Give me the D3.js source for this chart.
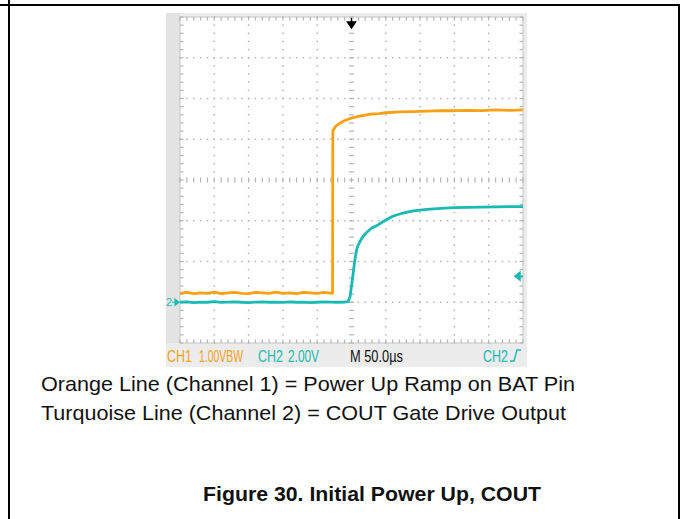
<!DOCTYPE html>
<html>
<head>
<meta charset="utf-8">
<script src="https://cdn.jsdelivr.net/npm/d3@7"></script>
<style>
  body { margin: 0; background: #fff; }
  svg { display: block; }
</style>
</head>
<body>
<div id="my_dataviz"></div>
<script>

// time axis in microseconds (50 us / div, 10 div)
var ch1Time = [0, 10, 20, 30, 40, 50, 60, 70, 80, 90, 100, 110, 120, 130, 140, 150, 160, 170, 180, 190, 200, 210, 222.4,
    222.8, 226, 230, 235, 240, 250, 260, 270, 280, 290, 300, 320, 340, 360, 380, 400, 420, 440, 460, 480, 500];
// CH1 volts (1.00 V / div)
var ch1Volts = [0.22, 0.24, 0.21, 0.23, 0.22, 0.25, 0.21, 0.23, 0.24, 0.22, 0.21, 0.24, 0.23, 0.22, 0.25, 0.22, 0.23, 0.21, 0.24, 0.23, 0.22, 0.24, 0.22,
    4.20, 4.30, 4.36, 4.41, 4.46, 4.52, 4.56, 4.59, 4.62, 4.63, 4.65, 4.67, 4.68, 4.69, 4.70, 4.70, 4.71, 4.70, 4.72, 4.71, 4.72];

var ch2Time = [0, 10, 20, 30, 40, 50, 60, 70, 80, 90, 100, 110, 120, 130, 140, 150, 160, 170, 180, 190, 200, 210, 220, 230, 240, 245,
    248, 250, 252, 254, 256, 258, 260, 263, 267, 272, 280, 287, 295, 310, 325, 340, 360, 380, 400, 420, 440, 460, 480, 500];
// CH2 volts (2.00 V / div)
var ch2Volts = [0.00, 0.02, -0.02, 0.01, 0.00, 0.03, -0.01, 0.01, 0.02, 0.00, -0.02, 0.01, 0.02, 0.00, 0.01, -0.01, 0.02, 0.00, 0.01, -0.02, 0.00, 0.02, 0.01, 0.00, 0.01, 0.03,
    0.30, 0.80, 1.30, 1.85, 2.30, 2.65, 2.82, 3.02, 3.24, 3.42, 3.66, 3.76, 3.94, 4.22, 4.38, 4.48, 4.56, 4.61, 4.64, 4.66, 4.67, 4.68, 4.69, 4.69];

var ch1Scale = 1, ch2Scale = 2;   // volts per division
var groundDiv = -3;               // both channels referenced 3 div below centre
var triggerVolts = 1.28;
var triggerTime = 250;

var labels = [
    { text: "CH1", x: 167, w: 25, color: "#f5a11c" },
    { text: "1.00VBW", x: 199, w: 44, color: "#f5a11c" },
    { text: "CH2", x: 258, w: 25, color: "#1bb8b1" },
    { text: "2.00V", x: 288, w: 31, color: "#1bb8b1" },
    { text: "M 50.0\u00b5s", x: 350, w: 53, color: "#111" },
    { text: "CH2", x: 483, w: 25, color: "#1bb8b1" }
];
var legendLines = ["Orange Line (Channel 1) = Power Up Ramp on BAT Pin", "Turquoise Line (Channel 2) = COUT Gate Drive Output"];
var legendWidths = [534, 525];
var figTitle = "Figure 30. Initial Power Up, COUT";

var width = 683, height = 519;
var orange = "#f9a116", teal = "#19bab2";

var svg = d3.select("#my_dataviz")
    .append("svg")
    .attr("width", width)
    .attr("height", height);

//////////
// PAGE BORDER //
//////////
svg.append("line").attr("x1", 0).attr("x2", 680).attr("y1", 5).attr("y2", 5).attr("stroke", "#000").attr("stroke-width", 2);
svg.append("line").attr("x1", 9).attr("x2", 9).attr("y1", 0).attr("y2", height).attr("stroke", "#000").attr("stroke-width", 2);
svg.append("line").attr("x1", 679).attr("x2", 679).attr("y1", 4).attr("y2", height).attr("stroke", "#000").attr("stroke-width", 2);

//////////
// SCOPE SCREEN //
//////////
var x = d3.scaleLinear().domain([0, 500]).range([180, 523]);
var y = d3.scaleLinear().domain([-4, 4]).range([343, 17]);

svg.append("rect").attr("x", 166).attr("y", 13).attr("width", 361).attr("height", 354).attr("fill", "#ececec");
svg.append("rect").attr("x", 166).attr("y", 13).attr("width", 14).attr("height", 330).attr("fill", "#e3e3e3");
svg.append("rect").attr("x", 180).attr("y", 17).attr("width", 343).attr("height", 326).attr("fill", "#fff")
    .attr("stroke", "#c4c4c4").attr("stroke-width", 1);

var grid = svg.append("g").attr("fill", "#b5b5b5");
var minorY = d3.range(-4, 4.001, 0.2);
var minorX = d3.range(0, 500.1, 10);

// dotted verticals
[50, 100, 150, 200, 300, 350, 400, 450].forEach(function (t) {
    grid.selectAll(null).data(minorY).enter().append("rect")
        .attr("x", x(t) - 0.75).attr("y", function (d) { return y(d) - 0.75; })
        .attr("width", 1.5).attr("height", 1.5);
});
// dotted horizontals
[-3, -2, -1, 1, 2, 3].forEach(function (v) {
    grid.selectAll(null).data(minorX).enter().append("rect")
        .attr("x", function (d) { return x(d) - 0.75; }).attr("y", y(v) - 0.75)
        .attr("width", 1.5).attr("height", 1.5);
});
// centre cross with ticks
grid.selectAll(null).data(minorY).enter().append("rect")
    .attr("x", x(250) - 2.5).attr("y", function (d) { return y(d) - 0.6; })
    .attr("width", 5).attr("height", 1.2);
grid.selectAll(null).data(minorX).enter().append("rect")
    .attr("x", function (d) { return x(d) - 0.6; }).attr("y", y(0) - 2.5)
    .attr("width", 1.2).attr("height", 5);
// edge ticks
grid.selectAll(null).data(minorX).enter().append("rect")
    .attr("x", function (d) { return x(d) - 0.6; }).attr("y", y(4))
    .attr("width", 1.2).attr("height", 3.5);
grid.selectAll(null).data(minorX).enter().append("rect")
    .attr("x", function (d) { return x(d) - 0.6; }).attr("y", y(-4) - 3.5)
    .attr("width", 1.2).attr("height", 3.5);
grid.selectAll(null).data(minorY).enter().append("rect")
    .attr("x", x(0)).attr("y", function (d) { return y(d) - 0.6; })
    .attr("width", 3.5).attr("height", 1.2);
grid.selectAll(null).data(minorY).enter().append("rect")
    .attr("x", x(500) - 3.5).attr("y", function (d) { return y(d) - 0.6; })
    .attr("width", 3.5).attr("height", 1.2);

//////////
// TRACES //
//////////
var line1 = d3.line()
    .x(function (d, i) { return x(ch1Time[i]); })
    .y(function (d) { return y(d / ch1Scale + groundDiv); });
var line2 = d3.line()
    .x(function (d, i) { return x(ch2Time[i]); })
    .y(function (d) { return y(d / ch2Scale + groundDiv); });

svg.append("path").datum(ch2Volts).attr("d", line2)
    .attr("fill", "none").attr("stroke", teal).attr("stroke-width", 2.8).attr("stroke-linejoin", "round");
svg.append("path").datum(ch1Volts).attr("d", line1)
    .attr("fill", "none").attr("stroke", orange).attr("stroke-width", 2.8).attr("stroke-linejoin", "round");

//////////
// MARKERS //
//////////
var gy = y(groundDiv);
svg.append("text").attr("x", 166).attr("y", gy + 4).text("2")
    .style("font-family", "Liberation Sans, Arial, sans-serif").style("font-size", "11px").attr("fill", teal);
svg.append("path").attr("d", "M172," + gy + "H176M175," + (gy - 3) + "L179," + gy + "L175," + (gy + 3) + "Z")
    .attr("stroke", teal).attr("stroke-width", 1.2).attr("fill", teal);

var ty = y(triggerVolts / ch2Scale + groundDiv);
svg.append("path").attr("d", "M523," + ty + "H518M520," + (ty - 4) + "L515," + ty + "L520," + (ty + 4) + "Z")
    .attr("stroke", teal).attr("stroke-width", 1.5).attr("fill", teal);

var tx = x(triggerTime);
svg.append("path").attr("d", "M" + tx + ",18V23M" + (tx - 4) + ",22L" + tx + ",28L" + (tx + 4) + ",22Z")
    .attr("stroke", "#000").attr("stroke-width", 1.5).attr("fill", "#000");

//////////
// SCREEN LABELS //
//////////
// condensed scope font: squeeze each label horizontally to its width
svg.selectAll(null).data(labels).enter().append("text")
    .style("font-family", "Liberation Sans, Arial, sans-serif")
    .style("font-size", "16px")
    .attr("fill", function (d) { return d.color; })
    .text(function (d) { return d.text; })
    .attr("transform", function (d) {
        var len = this.getComputedTextLength();
        return "translate(" + d.x + ",362) scale(" + (d.w / len) + ",1)";
    });
// rising edge symbol
svg.append("path").attr("d", "M510,361H514L517,350H521")
    .attr("fill", "none").attr("stroke", "#1bb8b1").attr("stroke-width", 1.4);

//////////
// CAPTIONS //
//////////
svg.selectAll(null).data(legendLines).enter().append("text")
    .attr("x", 41)
    .attr("y", function (d, i) { return 391 + i * 29; })
    .attr("textLength", function (d, i) { return legendWidths[i]; })
    .attr("lengthAdjust", "spacingAndGlyphs")
    .style("font-family", "Liberation Sans, Arial, sans-serif")
    .style("font-size", "21px")
    .attr("fill", "#111")
    .text(function (d) { return d; });

svg.append("text").attr("x", 203).attr("y", 501)
    .attr("textLength", 338)
    .attr("lengthAdjust", "spacingAndGlyphs")
    .style("font-family", "Liberation Sans, Arial, sans-serif")
    .style("font-size", "21px").style("font-weight", "bold")
    .attr("fill", "#111")
    .text(figTitle);
</script>
</body>
</html>
